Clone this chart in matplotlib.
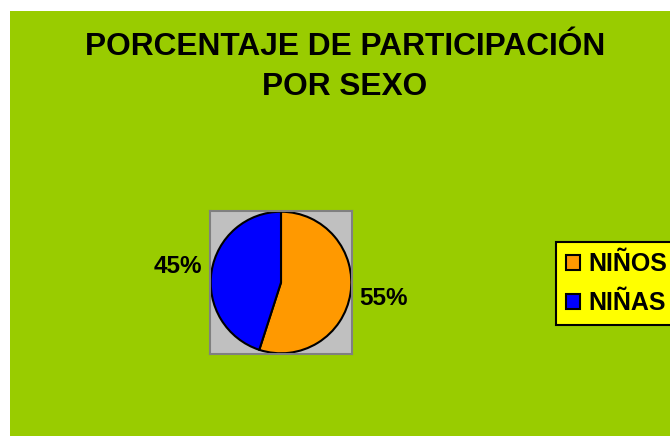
import matplotlib
matplotlib.use("Agg")
import matplotlib.pyplot as plt
from matplotlib.patches import Rectangle

plt.rcParams['font.family'] = ['Liberation Sans', 'DejaVu Sans']

categories = ["NIÑOS", "NIÑAS"]
values = [55, 45]
colors = ["#FF9900", "#0000FF"]
title_lines = ["PORCENTAJE DE PARTICIPACIÓN", "POR SEXO"]

W, H = 670, 436
fig = plt.figure(figsize=(W / 100, H / 100), dpi=100, facecolor="white")

# green chart area
fig.patches.append(Rectangle((10 / W, 0), 1, 1 - 11 / H, transform=fig.transFigure,
                             facecolor="#99CC00", edgecolor="none", zorder=-10))

fig.text(345 / W, 1 - 47 / H, title_lines[0], ha="center", va="center",
         fontsize=22.8, fontweight="bold", color="black")
fig.text(345 / W, 1 - 87 / H, title_lines[1], ha="center", va="center",
         fontsize=22.8, fontweight="bold", color="black")

ax = fig.add_axes([210 / W, (H - 354) / H, 142 / W, 143 / H])
ax.set_zorder(1)
ax.set_facecolor("#C0C0C0")

wedges, texts, autotexts = ax.pie(
    values, colors=colors, startangle=90, counterclock=False,
    autopct='%1.0f%%', pctdistance=1.48,
    wedgeprops=dict(edgecolor="black", linewidth=1.5),
    textprops=dict(fontsize=17.5, fontweight="bold", color="black"),
)
for t in autotexts:
    t.set_clip_on(False)
ax.set_xlim(-1.01, 1.01)
ax.set_ylim(-1.01, 1.01)
ax.set_aspect("auto")
ax.set_xticks([])
ax.set_yticks([])
ax.set_frame_on(True)
for s in ax.spines.values():
    s.set_visible(True)
    s.set_edgecolor("#808080")
    s.set_linewidth(1.5)

leg = fig.legend(wedges, categories, loc="upper left",
                 bbox_to_anchor=(556 / W, 1 - 242 / H), bbox_transform=fig.transFigure,
                 fancybox=False, frameon=True, facecolor="#FFFF00", edgecolor="black",
                 framealpha=1, borderaxespad=0,
                 prop=dict(size=18, weight="bold"),
                 handlelength=0.55, handleheight=0.55, handletextpad=0.35,
                 labelspacing=0.6, borderpad=0.4)
leg.set_zorder(2)
leg.get_frame().set_linewidth(1.5)

fig.savefig("out.png", dpi=100, facecolor="white")
